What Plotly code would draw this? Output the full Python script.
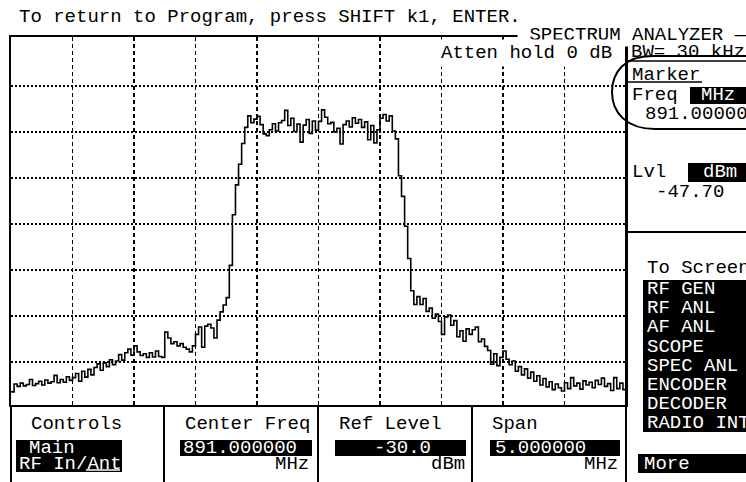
import numpy as np
import plotly.graph_objects as go

# ---------------- instrument settings / readouts ----------------
CENTER_MHZ = 891.0
SPAN_MHZ = 5.0
REF_LEVEL_DBM = -30.0
DB_PER_DIV = 10
N_DIV_X = 10
N_DIV_Y = 8
ATTEN_DB = 0
RBW_KHZ = 30
MARKER_FREQ_MHZ = 891.0
MARKER_LVL_DBM = -47.70
Y_OFFSET_DB = 0.65  # display offset of graticule vs. reference level

MENU_ITEMS = ["RF GEN", "RF ANL", "AF ANL", "SCOPE", "SPEC ANL", "ENCODER", "DECODER", "RADIO INT"]

# ---------------- trace (dBm), 201 sweep points ----------------
trace_left = [
    -106.5, -104.8, -105.3, -104.6, -105.2, -104.9, -103.8, -105.1, -104.7, -104.2,
    -105.0, -103.9, -104.6, -104.3, -102.9, -104.5, -103.8, -104.4, -103.2, -104.0,
    -103.4, -102.5, -104.2, -102.0, -103.3, -101.6, -102.8, -101.2, -100.4, -101.8,
    -100.2, -101.0, -99.5, -100.6, -99.8, -98.4, -99.6, -98.0, -97.2, -98.5,
    -96.5, -97.8, -98.6, -98.2, -99.0, -98.0, -98.9, -97.6, -98.8, -99.0,
    -93.5, -94.8, -96.0, -95.6, -96.5, -96.0, -96.8, -97.2, -97.8, -96.5,
    -94.0, -92.4, -96.8, -92.2, -91.8, -92.6, -94.8, -90.9, -89.1, -87.6,
    -86.0, -79.0, -68.0, -61.5, -57.0, -52.5, -49.0,
]
trace_plateau = [
    -46.5, -48.0, -47.2, -46.6, -48.4, -50.4, -50.8, -49.5, -48.2, -49.8,
    -48.0, -47.5, -45.3, -48.6, -47.0, -49.9, -48.3, -52.2, -48.5, -47.3,
    -50.3, -47.6, -49.6, -47.7, -45.2, -46.8, -48.2, -47.9, -50.0, -49.2,
    -52.6, -48.4, -47.6, -48.9, -46.9, -48.1, -47.3, -49.0, -47.8, -51.7,
    -48.6, -52.4, -49.5, -47.0, -46.2, -47.6, -46.5, -49.8,
]
trace_right = [
    -51.5, -59.5, -64.0, -70.5, -77.5, -84.5, -87.5,
    -85.8, -87.5, -86.2, -89.0, -88.3, -90.5, -89.6, -91.2, -94.0, -90.2,
    -89.8, -92.0, -91.0, -94.5, -93.2, -95.5, -92.8, -94.0, -93.0, -92.4,
    -95.6, -95.0, -96.6, -97.5, -100.5, -98.2, -100.8, -99.0, -97.6, -99.4,
    -100.6, -99.8, -102.0, -101.0, -102.8, -101.5, -103.5, -102.2, -104.2, -103.0,
    -105.0, -103.6, -105.4, -104.3, -106.0, -104.8, -105.6, -106.3, -104.5, -105.8,
    -103.4, -105.2, -104.6, -105.9, -104.1, -105.0, -104.4, -105.6, -104.0, -104.9,
    -103.5, -105.3, -104.7, -106.2, -103.4, -105.8, -104.6, -106.0, -104.8,
]
trace_dbm = trace_left + trace_plateau + trace_right
freqs = np.linspace(CENTER_MHZ - SPAN_MHZ / 2, CENTER_MHZ + SPAN_MHZ / 2, len(trace_dbm))

# ---------------- geometry (pixels) ----------------
W, H = 746, 482
L, R, T, B = 11, 626, 37, 405  # graticule box


def px(x):
    return (x - L) / (R - L)


def py(y):
    return (B - y) / (B - T)


FONT = "Liberation Mono"
FS = 19

fig = go.Figure()
fig.add_trace(go.Scatter(
    x=freqs, y=trace_dbm, mode="lines", line=dict(color="black", width=1.6, shape="hv"),
    hoverinfo="skip", showlegend=False,
))

x0 = CENTER_MHZ - SPAN_MHZ / 2
x1 = CENTER_MHZ + SPAN_MHZ / 2
xdiv = SPAN_MHZ / N_DIV_X
ytop = REF_LEVEL_DBM + Y_OFFSET_DB
ybot = ytop - N_DIV_Y * DB_PER_DIV

fig.update_xaxes(
    range=[x0, x1], tickvals=[x0 + k * xdiv for k in range(1, N_DIV_X)],
    showticklabels=False, ticks="", showgrid=True, gridcolor="black", gridwidth=1.6,
    griddash="4px,3px", zeroline=False, showline=True, mirror=True,
    linecolor="black", linewidth=2, fixedrange=True,
)
fig.update_yaxes(
    range=[ybot, ytop],
    tickvals=[REF_LEVEL_DBM - k * DB_PER_DIV for k in range(1, N_DIV_Y)],
    showticklabels=False, ticks="", showgrid=True, gridcolor="black", gridwidth=1.6,
    griddash="2px,2px", zeroline=False, showline=True, mirror=True,
    linecolor="black", linewidth=2, fixedrange=True,
)

shapes = []


def line(xa, ya, xb, yb, color="black", width=2):
    shapes.append(dict(type="line", xref="paper", yref="paper", x0=px(xa), y0=py(ya),
                       x1=px(xb), y1=py(yb), line=dict(color=color, width=width), layer="above"))


def box(xa, ya, xb, yb):
    shapes.append(dict(type="rect", xref="paper", yref="paper", x0=px(xa), y0=py(ya),
                       x1=px(xb), y1=py(yb), fillcolor="black", line=dict(width=0), layer="above"))


annotations = []


def txt(s, x, y, color="black", anchor="left", bg=None, pad=0):
    a = dict(text=s, x=px(x), y=py(y), xref="paper", yref="paper", xanchor=anchor,
             yanchor="middle", showarrow=False, borderpad=pad,
             font=dict(family=FONT, size=FS, color=color))
    if bg:
        a["bgcolor"] = bg
    annotations.append(a)


# header (drawn first so later texts sit on top of its white backing)
txt("To return to Program, press SHIFT k1, ENTER.", 18, 16.5)
txt(" SPECTRUM ANALYZER \u2014", 517, 35, bg="white", pad=0)
txt(f"Atten hold {ATTEN_DB} dB", 438, 53, bg="white", pad=2)

# bottom soft-key panel
line(L, B, L, H + 2)
for xv in (164, 318, 472, R):
    line(xv, B, xv, H + 2)
line(R, T, R, H + 2)

box(16, 440, 122, 472)
box(180, 440, 312, 456)
box(335, 440, 466, 456)
box(490, 440, 620, 456)
line(86, 470, 120, 470, color="white", width=1.5)

txt("Controls", 30, 424)
txt("Main", 28, 448, color="white")
txt("RF In/Ant", 18, 463.5, color="white")

txt("Center Freq", 184, 424)
txt(f"{CENTER_MHZ:.6f}", 182, 448, color="white")
txt("MHz", 310, 463.5, anchor="right")

txt("Ref Level", 338, 424)
txt(f"{REF_LEVEL_DBM:.1f}", 373, 448, color="white")
txt("dBm", 466, 463.5, anchor="right")

txt("Span", 491, 424)
txt(f"{SPAN_MHZ:.6f}", 494, 448, color="white")
txt("MHz", 619, 463.5, anchor="right")

# right panel
line(R, 232, W + 2, 232)
line(628, 61, W + 2, 61, width=1.5)
line(628, 82, 702, 82, width=1.5)
box(690, 87, W + 2, 104)
box(688, 163, W + 2, 182)
box(643, 280, W + 2, 432)
box(638, 454, W + 2, 473)

txt(f"BW= {RBW_KHZ} kHz", 630, 52)
txt("Marker", 631, 74.5)
txt("Freq", 631, 95)
txt("MHz", 700, 95.5, color="white")
txt(f"{MARKER_FREQ_MHZ:.6f}", 644, 114)
txt("Lvl", 631, 171.5)
txt("dBm", 702, 172, color="white")
txt(f"{MARKER_LVL_DBM:.2f}", 655, 191.5)
txt("To Screen", 646, 268)
for k, item in enumerate(MENU_ITEMS):
    txt(item, 646, 289 + 19.2 * k, color="white")
txt("More", 643, 463.5, color="white")

# hand-drawn oval around the marker readout
pts = [(770, 56), (652, 56), (625, 56), (612, 72), (612, 92), (612, 113), (627, 129), (655, 129), (770, 129)]
P = [(px(a), py(b)) for a, b in pts]
path = (f"M {P[0][0]},{P[0][1]} L {P[1][0]},{P[1][1]} "
        f"C {P[2][0]},{P[2][1]} {P[3][0]},{P[3][1]} {P[4][0]},{P[4][1]} "
        f"C {P[5][0]},{P[5][1]} {P[6][0]},{P[6][1]} {P[7][0]},{P[7][1]} "
        f"L {P[8][0]},{P[8][1]}")
shapes.append(dict(type="path", xref="paper", yref="paper", path=path,
                   line=dict(color="black", width=2), layer="above"))

fig.update_layout(
    width=W, height=H, autosize=False,
    margin=dict(l=L, r=W - R, t=T, b=H - B, pad=0),
    paper_bgcolor="white", plot_bgcolor="white",
    shapes=shapes, annotations=annotations, showlegend=False,
    font=dict(family=FONT, size=FS, color="black"),
)

fig.write_html("out.html", config={"displayModeBar": False, "staticPlot": True},
               post_script="document.body.style.margin='0';document.body.style.overflow='hidden';")
